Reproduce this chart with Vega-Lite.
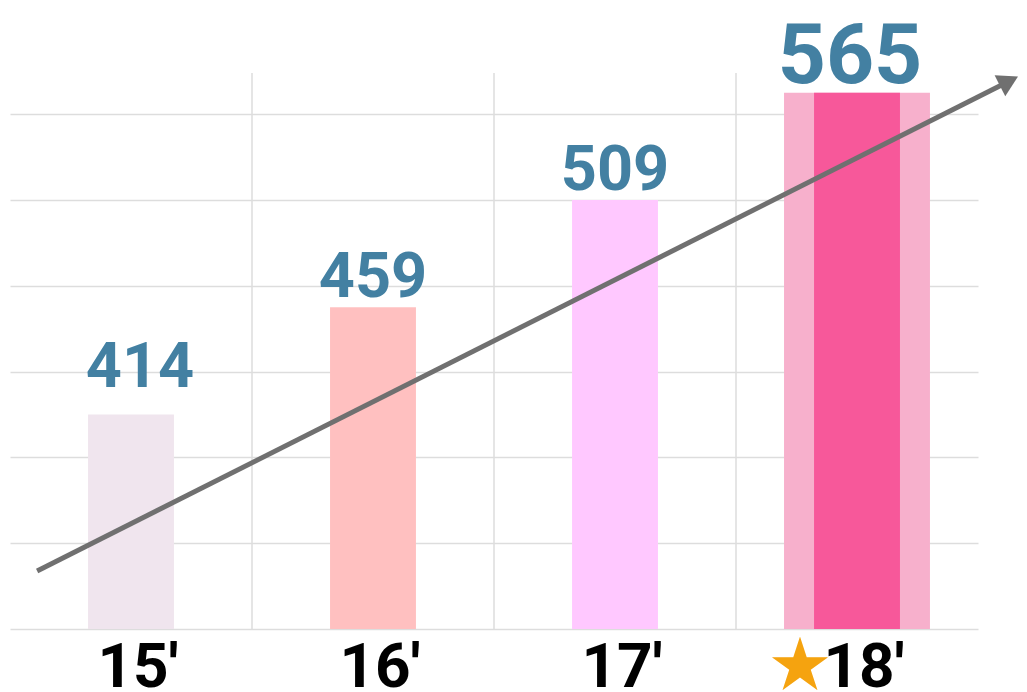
{
  "$schema": "https://vega.github.io/schema/vega-lite/v6.json",
  "width": 968,
  "height": 556,
  "autosize": "none",
  "padding": {"left": 10, "top": 73, "right": 49, "bottom": 63},
  "background": "white",
  "config": {"view": {"stroke": null}},
  "datasets": {
    "bars": [
      {"year": "15'", "value": 414, "bar": 2.5},
      {"year": "16'", "value": 459, "bar": 3.75},
      {"year": "17'", "value": 509, "bar": 5.0},
      {"year": "18'", "value": 565, "bar": 6.25}
    ],
    "arrow": [
      {"x": 0.112, "y": 0.676},
      {"x": 4.112, "y": 6.36}
    ],
    "head": [
      {"x": 4.128, "y": 6.385}
    ]
  },
  "layer": [
    {
      "data": {"name": "bars"},
      "encoding": {
        "x": {"field": "year", "type": "nominal", "scale": {"domain": ["15'", "16'", "17'", "18'"], "paddingInner": 0, "paddingOuter": 0}, "axis": null}
      },
      "layer": [
        {
          "transform": [{"filter": "datum.year != \"15'\""}],
          "mark": {"type": "rule", "color": "#dddddd", "strokeWidth": 1.5},
          "encoding": {"x": {"field": "year", "type": "nominal", "bandPosition": 0}}
        },
        {
          "transform": [{"filter": "datum.year == \"18'\""}],
          "mark": {"type": "bar", "width": {"band": 0.603}, "color": "#F7B0CC"},
          "encoding": {
            "y": {"field": "bar", "type": "quantitative", "scale": {"domain": [0, 6.48], "nice": false}, "axis": {"values": [0, 1, 2, 3, 4, 5, 6], "grid": true, "gridColor": "#dddddd", "gridWidth": 1.5, "labels": false, "ticks": false, "domain": false, "title": null}}
          }
        },
        {
          "mark": {"type": "bar", "width": {"band": 0.355}},
          "encoding": {
            "y": {"field": "bar", "type": "quantitative"},
            "color": {"field": "year", "type": "nominal", "scale": {"domain": ["15'", "16'", "17'", "18'"], "range": ["#F0E5EE", "#FFC0C0", "#FFC8FF", "#F7589A"]}, "legend": null}
          }
        },
        {
          "transform": [{"filter": "datum.value == 459 || datum.value == 509"}],
          "mark": {"type": "text", "font": "Roboto", "fontWeight": "bold", "fontSize": 63, "color": "#4380A2", "baseline": "alphabetic", "dy": -10},
          "encoding": {"y": {"field": "bar", "type": "quantitative"}, "text": {"field": "value"}}
        },
        {
          "transform": [{"filter": "datum.value == 414"}],
          "mark": {"type": "text", "font": "Roboto", "fontWeight": "bold", "fontSize": 63, "color": "#4380A2", "baseline": "alphabetic", "dy": -27, "dx": 9},
          "encoding": {"y": {"field": "bar", "type": "quantitative"}, "text": {"field": "value"}}
        },
        {
          "transform": [{"filter": "datum.value == 565"}],
          "mark": {"type": "text", "font": "Roboto", "fontWeight": "bold", "fontSize": 84, "color": "#4380A2", "baseline": "alphabetic", "dy": -10, "dx": -7},
          "encoding": {"y": {"field": "bar", "type": "quantitative"}, "text": {"field": "value"}}
        },
        {
          "mark": {"type": "text", "font": "Roboto", "fontWeight": "bold", "fontSize": 62, "color": "#000000", "baseline": "alphabetic", "dy": 58, "dx": 7},
          "encoding": {"y": {"datum": 0}, "text": {"field": "year"}}
        },
        {
          "transform": [{"filter": "datum.year == \"18'\""}],
          "mark": {"type": "text", "text": "★", "font": "Noto Sans CJK KR", "fontSize": 60, "color": "#F5A30F", "baseline": "alphabetic", "dy": 57, "dx": -57},
          "encoding": {"y": {"datum": 0}}
        }
      ]
    },
    {
      "data": {"name": "arrow"},
      "mark": {"type": "line", "color": "#707070", "strokeWidth": 5},
      "encoding": {
        "x": {"field": "x", "type": "quantitative", "scale": {"domain": [0, 4], "nice": false, "zero": false}, "axis": null},
        "y": {"field": "y", "type": "quantitative"}
      }
    },
    {
      "data": {"name": "head"},
      "mark": {"type": "point", "shape": "triangle-up", "size": 550, "angle": 63, "filled": true, "color": "#707070", "opacity": 1},
      "encoding": {
        "x": {"field": "x", "type": "quantitative", "scale": {"domain": [0, 4], "nice": false, "zero": false}, "axis": null},
        "y": {"field": "y", "type": "quantitative"}
      }
    }
  ],
  "resolve": {"scale": {"x": "independent"}, "axis": {"x": "independent"}}
}
